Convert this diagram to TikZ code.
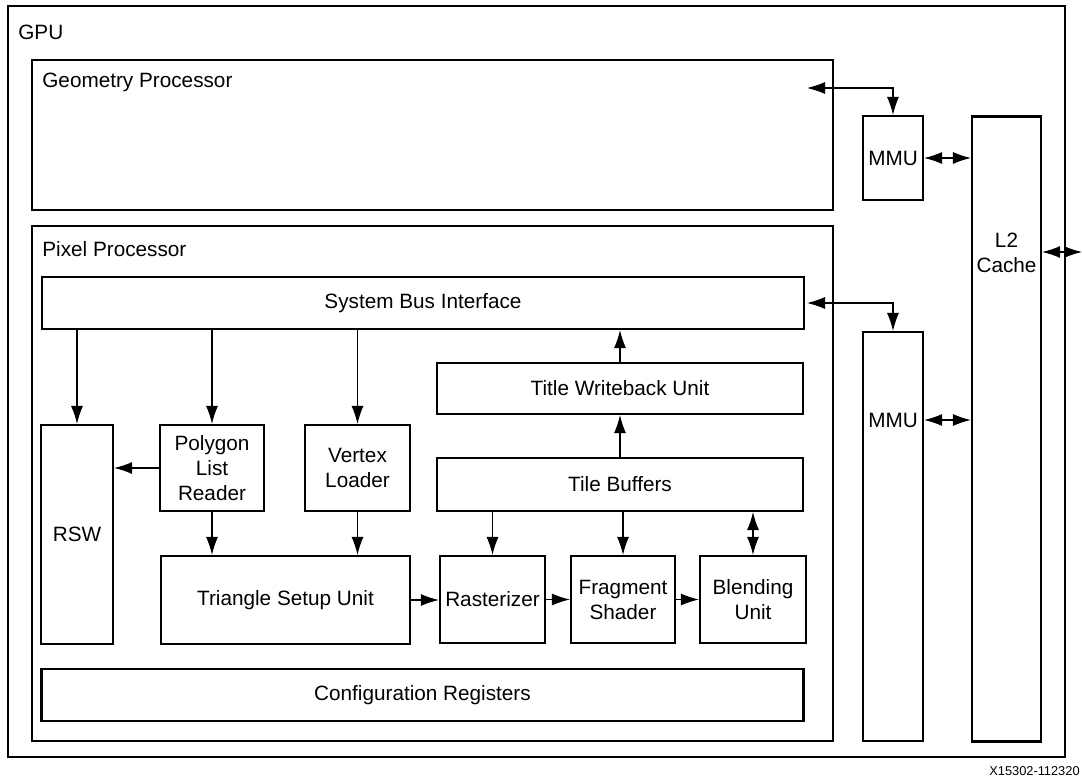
\documentclass[tikz,border=0pt]{standalone}
\usepackage{fontspec}
\setmainfont{Liberation Sans}
\usetikzlibrary{arrows.meta}
\pgfdeclarelayer{edgelayer}
\pgfdeclarelayer{nodelayer}
\pgfsetlayers{edgelayer,nodelayer,main}
\tikzstyle{block}=[rectangle,draw=black,fill=white,line width=1.3pt,inner sep=0pt,align=center]
\tikzstyle{frame}=[rectangle,draw=black,line width=1.3pt,inner sep=0pt]
\tikzstyle{title}=[anchor=west,inner sep=0pt]
\tikzstyle{link}=[line width=0.6pt]

\begin{document}
\begin{tikzpicture}[x=0.02cm, y=-0.02cm, font=\fontsize{11.8}{14.2}\selectfont, >={Latex[length=0.36cm,width=0.24cm]}]
        \useasboundingbox (0, 0) rectangle (1082, 784);

        \begin{pgfonlayer}{nodelayer}
            \node [style = frame, minimum width=21.14cm, minimum height=15.02cm] (gpu) at (536.5, 381.5) {};
            \node [style = title] (gpulbl) at (18, 32) {GPU};

            \node [style = frame, minimum width=16.02cm, minimum height=3.0cm] (geo) at (432.5, 135) {};
            \node [style = title] (geolbl) at (42, 82) {Geometry Processor};
            \node [style = frame, minimum width=16.02cm, minimum height=10.3cm] (pix) at (432.5, 483.5) {};
            \node [style = title] (pixlbl) at (42, 249) {Pixel Processor};

            \node [style = block, minimum width=1.2cm, minimum height=1.68cm] (mmu1) at (893, 158) {MMU};
            \node [style = block, minimum width=1.2cm, minimum height=8.18cm] (mmu2) at (893, 536.5) {};
            \node [] (mmu2lbl) at (893, 420) {MMU};
            \node [style = block, minimum width=1.38cm, minimum height=12.5cm] (l2) at (1006.5, 429) {};
            \node [align=center] (l2lbl) at (1006.5, 253) {L2\\Cache};

            \node [style = block, minimum width=15.24cm, minimum height=1.04cm] (bus) at (423, 303) {System Bus Interface};
            \node [style = block, minimum width=1.44cm, minimum height=4.38cm] (rsw) at (77, 534.5) {RSW};
            \node [style = block, minimum width=2.08cm, minimum height=1.72cm] (plr) at (212, 468) {Polygon\\List\\Reader};
            \node [style = block, minimum width=2.1cm, minimum height=1.72cm] (vl) at (357.5, 468) {Vertex\\Loader};
            \node [style = block, minimum width=4.98cm, minimum height=1.76cm] (tsu) at (285.5, 600) {Triangle Setup Unit};

            \node [style = block, minimum width=7.32cm, minimum height=1.02cm] (twu) at (620, 388.5) {Title Writeback Unit};
            \node [style = block, minimum width=7.32cm, minimum height=1.06cm] (tb) at (620, 484.5) {Tile Buffers};
            \node [style = block, minimum width=2.1cm, minimum height=1.74cm] (rast) at (492.5, 599.5) {Rasterizer};
            \node [style = block, minimum width=2.08cm, minimum height=1.74cm] (fs) at (623, 599.5) {Fragment\\Shader};
            \node [style = block, minimum width=2.12cm, minimum height=1.74cm] (bu) at (753, 599.5) {Blending\\Unit};

            \node [style = block, minimum width=15.24cm, minimum height=1.04cm] (cfg) at (422.5, 695) {Configuration Registers};

            \node [anchor=east, inner sep=0pt, font=\fontsize{7.3}{9}\selectfont] (figid) at (1080, 771) {X15302-112320};
        \end{pgfonlayer}

        \coordinate (geoport) at (807, 88);
        \coordinate (busport) at (807, 303);
        \coordinate (ext) at (1082, 252);

        \begin{pgfonlayer}{edgelayer}
            \draw [style = link, <->] (geoport) -| (mmu1.north);
            \draw [style = link, <->] (mmu1.east) to (mmu1.east -| l2.west);
            \draw [style = link, <->] (busport) -| (mmu2.north);
            \draw [style = link, <->] (mmu2.east |- mmu2lbl) to (l2.west |- mmu2lbl);
            \draw [style = link, <->] (l2.east |- ext) to (ext);

            \draw [style = link, ->] (bus.south -| rsw.north) to (rsw.north);
            \draw [style = link, ->] (bus.south -| plr.north) to (plr.north);
            \draw [style = link, ->] (bus.south -| vl.north) to (vl.north);
            \draw [style = link, ->] (plr.west) to (plr.west -| rsw.east);
            \draw [style = link, ->] (plr.south) to (plr.south |- tsu.north);
            \draw [style = link, ->] (vl.south) to (vl.south |- tsu.north);

            \draw [style = link, ->] (tsu.east) to (tsu.east -| rast.west);
            \draw [style = link, ->] (rast.east) to (rast.east -| fs.west);
            \draw [style = link, ->] (fs.east) to (fs.east -| bu.west);

            \draw [style = link, ->] (tb.south -| rast.north) to (rast.north);
            \draw [style = link, ->] (tb.south -| fs.north) to (fs.north);
            \draw [style = link, <->] (tb.south -| bu.north) to (bu.north);
            \draw [style = link, ->] (tb.north) to (twu.south);
            \draw [style = link, ->] (twu.north) to (twu.north |- bus.south);
        \end{pgfonlayer}
    \end{tikzpicture}
\end{document}
